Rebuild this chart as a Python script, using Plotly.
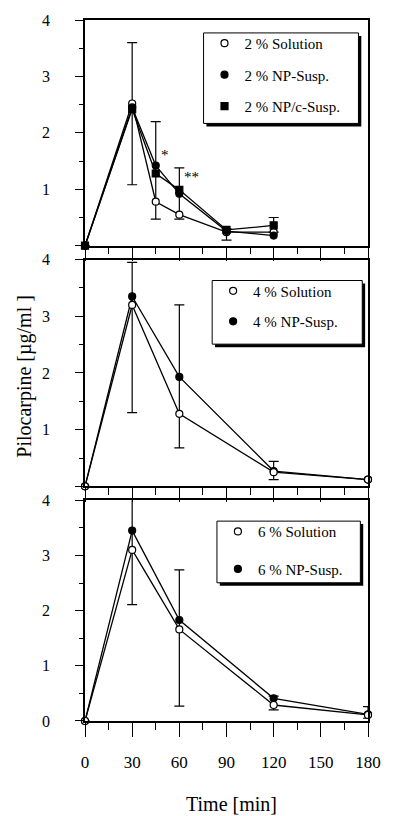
import plotly.graph_objects as go

# ---------------- data ----------------
time_2 = [0, 30, 45, 60, 90, 120]
sol_2 = [0, 2.52, 0.78, 0.55, 0.24, 0.24]
np_2 = [0, 2.45, 1.42, 0.92, 0.26, 0.18]
npc_2 = [0, 2.42, 1.28, 0.99, 0.28, 0.36]
bar_top_2 = [0, 3.60, 2.20, 1.38, 0.30, 0.50]
bar_bot_2 = [0, 1.08, 0.47, 0.47, 0.10, 0.24]

time_46 = [0, 30, 60, 120, 180]
sol_4 = [0, 3.20, 1.28, 0.25, 0.12]
np_4 = [0, 3.35, 1.93, 0.27, 0.12]
bar_top_4 = [0, 3.95, 3.20, 0.44, 0.12]
bar_bot_4 = [0, 1.30, 0.68, 0.12, 0.12]

sol_6 = [0, 3.10, 1.66, 0.29, 0.11]
np_6 = [0, 3.45, 1.83, 0.41, 0.12]
bar_top_6 = [0, 4.15, 2.74, 0.45, 0.26]
bar_bot_6 = [0, 2.11, 0.27, 0.20, 0.05]

x_ticks = [0, 30, 60, 90, 120, 150, 180]
y_ticks = [0, 1, 2, 3, 4]

FONT = "Liberation Serif"

# layout geometry (pixels)
W, H = 393, 816
L, R, T, B = 85, 12, 16, 95
PW, PH = W - L - R, H - T - B


def px(xp):
    return (xp - L) / PW


def py(yp):
    return (H - B - yp) / PH


fig = go.Figure()


def errs(mean, top, bot):
    plus = [max(t - m, 0) for m, t in zip(mean, top)]
    minus = [max(m - b, 0) for m, b in zip(mean, bot)]
    return dict(type="data", symmetric=False, array=plus, arrayminus=minus,
                color="black", thickness=1.2, width=5)


def add_series(x, y, name, symbol, fill, xa, ya, legend, rank, err=None):
    fig.add_trace(go.Scatter(x=x, y=y, mode="lines", xaxis=xa, yaxis=ya,
                             line=dict(color="black", width=1.3),
                             showlegend=False, hoverinfo="skip"))
    fig.add_trace(go.Scatter(x=x, y=y, mode="markers", xaxis=xa, yaxis=ya,
                             name=name, legend=legend, legendgroup=name,
                             legendrank=rank,
                             marker=dict(symbol=symbol, size=7, color=fill,
                                         line=dict(color="black", width=1.2)),
                             error_y=err, cliponaxis=False))


# panel 1 (2 %)
add_series(time_2, sol_2, "2 % Solution", "circle", "white", "x", "y", "legend", 1,
           errs(sol_2, bar_top_2, bar_bot_2))
add_series(time_2, np_2, "2 % NP-Susp.", "circle", "black", "x", "y", "legend", 2)
add_series(time_2, npc_2, "2 % NP/c-Susp.", "square", "black", "x", "y", "legend", 3)

# panel 2 (4 %)
add_series(time_46, np_4, "4 % NP-Susp.", "circle", "black", "x2", "y2", "legend2", 2,
           errs(np_4, bar_top_4, bar_bot_4))
add_series(time_46, sol_4, "4 % Solution", "circle", "white", "x2", "y2", "legend2", 1)

# panel 3 (6 %)
add_series(time_46, np_6, "6 % NP-Susp.", "circle", "black", "x3", "y3", "legend3", 2,
           errs(np_6, bar_top_6, bar_bot_6))
add_series(time_46, sol_6, "6 % Solution", "circle", "white", "x3", "y3", "legend3", 1)

# axes
domains = {1: [py(243), py(16)], 2: [py(485), py(257)], 3: [py(721), py(499)]}
for i in (1, 2, 3):
    sx = "" if i == 1 else str(i)
    fig.update_layout(**{
        "xaxis" + sx: dict(domain=[0, 1], range=[0, 180], anchor="y" + sx,
                           tickvals=x_ticks, ticks="outside", ticklen=14, tickwidth=1.2,
                           tickcolor="black", showline=True, linecolor="black",
                           linewidth=1.5, mirror=True, showgrid=False, zeroline=False,
                           showticklabels=(i == 3), ticklabelstandoff=11,
                           tickfont=dict(family=FONT, size=17, color="black"),
                           minor=dict(dtick=15, tick0=0, ticks="outside", ticklen=7,
                                      tickwidth=1.2, tickcolor="black", showgrid=False)),
        "yaxis" + sx: dict(domain=domains[i], range=[0, 4], anchor="x" + sx,
                           tickvals=y_ticks,
                           ticktext=[str(v) if (v > 0 or i == 3) else "" for v in y_ticks],
                           ticks="outside", ticklen=8, tickwidth=1.2, tickcolor="black",
                           showline=True, linecolor="black", linewidth=1.5, mirror=True,
                           showgrid=False, zeroline=False, ticklabelstandoff=22,
                           tickfont=dict(family=FONT, size=16, color="black"),
                           minor=dict(dtick=0.5, tick0=0, ticks="outside", ticklen=4,
                                      tickwidth=1.2, tickcolor="black", showgrid=False)),
    })

# legend boxes with drop shadows: (left, top, right, bottom, item gap, legend top)
boxes = {
    "legend": (209, 29, 371, 120, 9, 23),
    "legend2": (218, 278, 375, 342, 8, 272),
    "legend3": (223, 520, 373, 582, 15, 514),
}
shapes = []
for key, (x0, y0, x1, y1, gap, ly) in boxes.items():
    shapes.append(dict(type="rect", xref="paper", yref="paper", layer="above",
                       x0=px(x0 + 3), x1=px(x1 + 3), y0=py(y1 + 3), y1=py(y0 + 3),
                       fillcolor="black", line=dict(width=0)))
    shapes.append(dict(type="rect", xref="paper", yref="paper", layer="above",
                       x0=px(x0), x1=px(x1), y0=py(y1), y1=py(y0),
                       fillcolor="white", line=dict(color="black", width=1)))
    fig.update_layout(**{key: dict(x=px(x0 + 1), y=py(ly), xanchor="left",
                                   yanchor="top", bgcolor="rgba(0,0,0,0)",
                                   borderwidth=0, tracegroupgap=gap,
                                   traceorder="grouped",
                                   font=dict(family=FONT, size=15, color="black"))})

annotations = [
    dict(text="*", x=50.6, y=1.6, xref="x", yref="y", showarrow=False,
         font=dict(family=FONT, size=15, color="black")),
    dict(text="**", x=68, y=1.22, xref="x", yref="y", showarrow=False,
         font=dict(family=FONT, size=15, color="black")),
    dict(text="Pilocarpine [µg/ml ]", x=px(22), y=py(374), xref="paper", yref="paper",
         xanchor="center", yanchor="middle",
         textangle=-90, showarrow=False, font=dict(family=FONT, size=20, color="black")),
    dict(text="Time [min]", x=px(238), y=py(804), xref="paper", yref="paper",
         xanchor="center", yanchor="middle",
         showarrow=False, font=dict(family=FONT, size=20, color="black")),
]

fig.update_layout(width=W, height=H, margin=dict(l=L, r=R, t=T, b=B, pad=0),
                  paper_bgcolor="white", plot_bgcolor="white",
                  shapes=shapes, annotations=annotations, showlegend=True)

fig.write_html("out.html")
